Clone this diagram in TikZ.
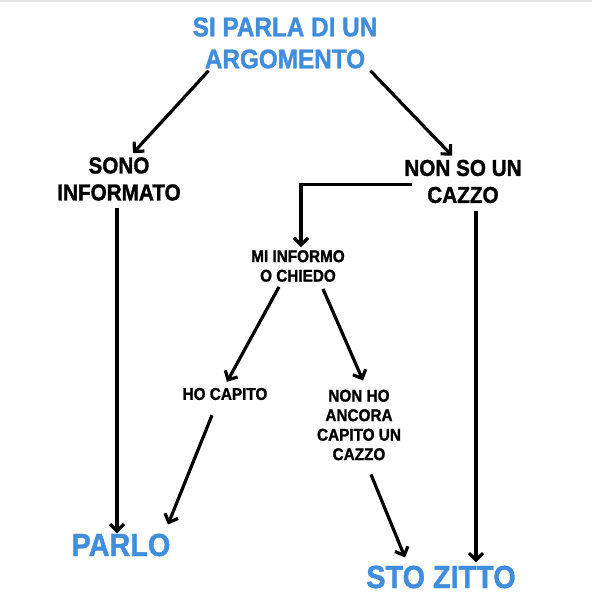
\documentclass[tikz,border=0pt]{standalone}
\usepackage{fontspec}
\setmainfont{Liberation Sans}[FakeStretch=0.9,BoldFeatures={FakeBold=1.3}]
\usetikzlibrary{arrows.meta}
\definecolor{ablue}{RGB}{64,141,220}

\begin{document}
\begin{tikzpicture}[x=1pt,y=1pt,
  txt/.style={inner sep=0pt,align=center,font=\bfseries},
  title/.style={txt,text=ablue,font=\bfseries\fontsize{27}{32}\selectfont},
  big/.style={txt,font=\bfseries\fontsize{23}{27}\selectfont},
  small/.style={txt,font=\bfseries\fontsize{17}{19.5}\selectfont},
  result/.style={txt,text=ablue,font=\bfseries\fontsize{32}{36}\selectfont},
  arr/.style={line width=3.2pt,-{Straight Barb[length=7pt,width=14pt]}}]
  \useasboundingbox (0,0) rectangle (592,600);
  \draw[gray!20,line width=1.5pt] (0,599) -- (592,599);
  % nodes
  \node[title] (top) at (285,557) {SI PARLA DI UN\\ARGOMENTO};
  \node[big] (sono) at (119,421) {SONO\\INFORMATO};
  \node[big] (nonso) at (463,418.5) {NON SO UN\\CAZZO};
  \node[small] (mi) at (298,334) {MI INFORMO\\O CHIEDO};
  \node[small] (ho) at (225,206) {HO CAPITO};
  \node[small] (nonho) at (359,175) {NON HO\\ANCORA\\CAPITO UN\\CAZZO};
  \node[result] (parlo) at (121,55) {PARLO};
  \node[result] (sto) at (441,23) {STO ZITTO};
  % arrows
  \draw[arr] ([xshift=16pt,yshift=-2pt]top.south west) -- ([xshift=14pt,yshift=4pt]sono.north);
  \draw[arr] ([xshift=-7pt,yshift=-2pt]top.south east) -- ([xshift=-11pt,yshift=4pt]nonso.north);
  \draw[arr] ([xshift=-2pt,yshift=-7pt]sono.south) -- ([xshift=-2pt]sono.south |- parlo.north);
  \draw[arr] ([xshift=13pt,yshift=-8pt]nonso.south) -- ([xshift=13pt,yshift=3pt]nonso.south |- sto.north);
  \draw[arr] ([xshift=8pt,yshift=-3pt]nonso.west) -| ([xshift=3pt,yshift=3pt]mi.north);
  \draw[arr] ([xshift=-19pt,yshift=-5pt]mi.south) -- ([xshift=2pt,yshift=6pt]ho.north);
  \draw[arr] ([xshift=25pt,yshift=-7pt]mi.south) -- ([xshift=4pt,yshift=9pt]nonho.north);
  \draw[arr] ([xshift=-13pt,yshift=-15pt]ho.south) -- ([xshift=47pt,yshift=9pt]parlo.north);
  \draw[arr] ([xshift=12pt,yshift=-14pt]nonho.south) -- ([xshift=-36pt,yshift=8pt]sto.north);
\end{tikzpicture}
\end{document}
